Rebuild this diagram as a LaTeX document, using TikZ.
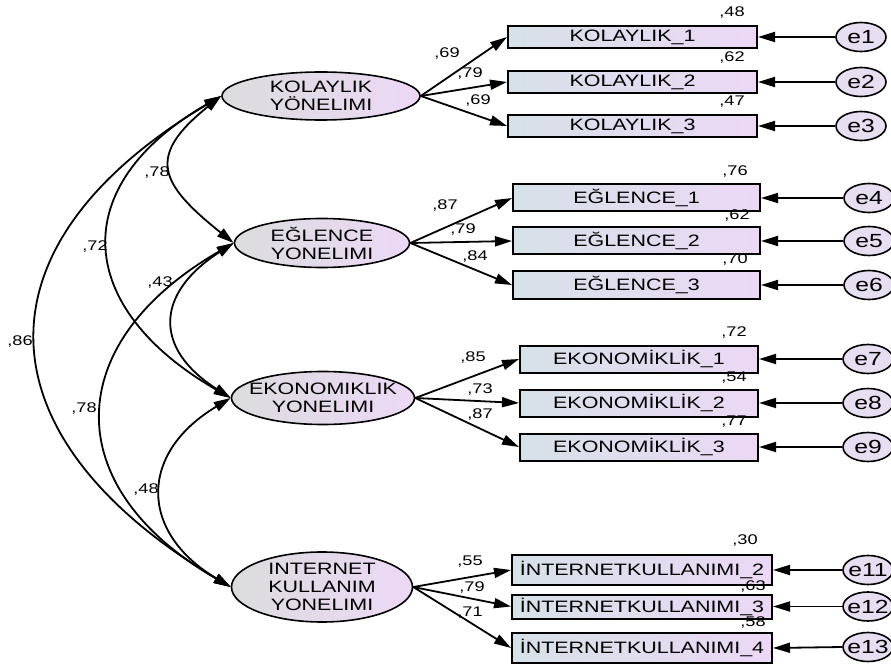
\documentclass[tikz,border=0pt]{standalone}
\usepackage{fontspec}
\setmainfont[FakeStretch=1.3]{Liberation Sans}
\usetikzlibrary{arrows.meta, shapes.geometric}
\definecolor{latgray}{RGB}{220,220,222}
\definecolor{latpink}{RGB}{236,216,246}
\definecolor{boxgray}{RGB}{214,225,232}
\definecolor{errfill}{RGB}{232,222,242}
\tikzset{>={Stealth[length=17pt,width=10pt,inset=0pt]}}
\tikzset{
  latent/.style={ellipse, draw, line width=1.6pt, left color=latgray, right color=latpink,
    inner xsep=-30pt, inner ysep=-10pt, align=center, font=\fontsize{16.5}{18}\selectfont},
  observed/.style={rectangle, draw, line width=2pt, left color=boxgray, right color=latpink,
    inner sep=0pt, font=\fontsize{16.5}{18}\selectfont},
  error/.style={ellipse, draw, line width=1.6pt, fill=errfill, inner sep=-4pt,
    minimum width=50pt, minimum height=29pt, font=\fontsize{19}{20}\selectfont},
  num/.style={inner sep=0pt, font=\fontsize{14}{15}\selectfont},
  load/.style={->, line width=1.8pt},
  cov/.style={<->, line width=1.8pt}
}

\begin{document}
\begin{tikzpicture}[x=1pt,y=-1pt]
    \path[use as bounding box, fill=white] (0,0) rectangle (891,668);

    % latent factors
    \node [latent, minimum width=198pt, minimum height=48pt] (kol) at (321,96) {KOLAYLIK\\YÖNELIMI};
    \node [latent, minimum width=175pt, minimum height=49pt] (egl) at (322,243) {EĞLENCE\\YONELIMI};
    \node [latent, minimum width=183pt, minimum height=53pt] (eko) at (323,398) {EKONOMIKLIK\\YONELIMI};
    \node [latent, minimum width=181pt, minimum height=70pt] (int) at (322,587) {INTERNET\\KULLANIM\\YONELIMI};

    % indicators
    \node [observed, minimum width=249pt, minimum height=22pt] (k1) at (632.5,37) {KOLAYLIK\_1};
    \node [observed, minimum width=249pt, minimum height=22pt] (k2) at (632.5,82) {KOLAYLIK\_2};
    \node [observed, minimum width=249pt, minimum height=22pt] (k3) at (632.5,126) {KOLAYLIK\_3};
    \node [observed, minimum width=247pt, minimum height=27pt] (g1) at (636.5,198) {EĞLENCE\_1};
    \node [observed, minimum width=247pt, minimum height=27pt] (g2) at (636.5,241) {EĞLENCE\_2};
    \node [observed, minimum width=247pt, minimum height=27pt] (g3) at (636.5,285) {EĞLENCE\_3};
    \node [observed, minimum width=238pt, minimum height=27pt] (o1) at (639,359) {EKONOMİKLİK\_1};
    \node [observed, minimum width=238pt, minimum height=27pt] (o2) at (639,403) {EKONOMİKLİK\_2};
    \node [observed, minimum width=238pt, minimum height=27pt] (o3) at (639,447) {EKONOMİKLİK\_3};
    \node [observed, minimum width=260pt, minimum height=30pt] (n2) at (642,570) {İNTERNETKULLANIMI\_2};
    \node [observed, minimum width=260pt, minimum height=24pt] (n3) at (642,606.5) {İNTERNETKULLANIMI\_3};
    \node [observed, minimum width=260pt, minimum height=30pt] (n4) at (642,648) {İNTERNETKULLANIMI\_4};

    % errors
    \node [error] (e1) at (861,37) {e1};
    \node [error] (e2) at (861,82) {e2};
    \node [error] (e3) at (861,126) {e3};
    \node [error] (e4) at (869,198) {e4};
    \node [error] (e5) at (869,241) {e5};
    \node [error] (e6) at (869,285) {e6};
    \node [error] (e7) at (868,359) {e7};
    \node [error] (e8) at (868,403) {e8};
    \node [error] (e9) at (868,447) {e9};
    \node [error] (e11) at (868,570) {e11};
    \node [error] (e12) at (868,606.5) {e12};
    \node [error] (e13) at (868,647) {e13};

    % loadings
    \draw [load] (kol.east) -- (k1.west);
    \draw [load] (kol.east) -- (k2.west);
    \draw [load] (kol.east) -- (k3.west);
    \draw [load] (egl.east) -- (g1.west);
    \draw [load] (egl.east) -- (g2.west);
    \draw [load] (egl.east) -- (g3.west);
    \draw [load] (eko.east) -- (o1.west);
    \draw [load] (eko.east) -- (o2.west);
    \draw [load] (eko.east) -- (o3.west);
    \draw [load] (int.east) -- (n2.west);
    \draw [load] (int.east) -- (n3.west);
    \draw [load] (int.east) -- (n4.west);

    % error paths
    \draw [load] (e1.west) -- (k1.east);
    \draw [load] (e2.west) -- (k2.east);
    \draw [load] (e3.west) -- (k3.east);
    \draw [load] (e4.west) -- (g1.east);
    \draw [load] (e5.west) -- (g2.east);
    \draw [load] (e6.west) -- (g3.east);
    \draw [load] (e7.west) -- (o1.east);
    \draw [load] (e8.west) -- (o2.east);
    \draw [load] (e9.west) -- (o3.east);
    \draw [load] (e11.west) -- (n2.east);
    \draw [load] (e12.west) -- (n3.east);
    \draw [load] (e13.west) -- (n4.east);

    % covariances
    \draw [cov] (kol.west) .. controls +(-75,60) and +(-75,-60) .. (egl.west);
    \draw [cov] (kol.west) .. controls +(-156,90) and +(-156,-90) .. (eko.west);
    \draw [cov] (kol.west) .. controls +(-252,150) and +(-252,-150) .. (int.west);
    \draw [cov] (egl.west) .. controls +(-78,50) and +(-78,-50) .. (eko.west);
    \draw [cov] (egl.west) .. controls +(-173,100) and +(-173,-100) .. (int.west);
    \draw [cov] (eko.west) .. controls +(-92,55) and +(-92,-55) .. (int.west);

    \node [num] (c12) at (157,173) {,78};
    \node [num] (c13) at (95,247) {,72};
    \node [num] (c14) at (20,342) {,86};
    \node [num] (c23) at (160,283) {,43};
    \node [num] (c24) at (84,409) {,78};
    \node [num] (c34) at (146,490) {,48};

    % loading values
    \node [num] (l1) at (447,54) {,69};
    \node [num] (l2) at (470,74) {,79};
    \node [num] (l3) at (478,101) {,69};
    \node [num] (l4) at (445,206) {,87};
    \node [num] (l5) at (463,230) {,79};
    \node [num] (l6) at (475,257) {,84};
    \node [num] (l7) at (473,358) {,85};
    \node [num] (l8) at (480,390) {,73};
    \node [num] (l9) at (480,415) {,87};
    \node [num] (l11) at (470,562) {,55};
    \node [num] (l12) at (472,588) {,79};
    \node [num] (l13) at (470,613) {,71};

    % squared multiple correlations
    \node [num] (r1) at ([xshift=-26pt,yshift=12pt]k1.north east) {,48};
    \node [num] (r2) at ([xshift=-26pt,yshift=12pt]k2.north east) {,62};
    \node [num] (r3) at ([xshift=-26pt,yshift=12pt]k3.north east) {,47};
    \node [num] (r4) at ([xshift=-26pt,yshift=12pt]g1.north east) {,76};
    \node [num] (r5) at ([xshift=-24pt,yshift=11pt]g2.north east) {,62};
    \node [num] (r6) at ([xshift=-26pt,yshift=11pt]g3.north east) {,70};
    \node [num] (r7) at ([xshift=-25pt,yshift=12pt]o1.north east) {,72};
    \node [num] (r8) at ([xshift=-25pt,yshift=11pt]o2.north east) {,54};
    \node [num] (r9) at ([xshift=-25pt,yshift=11pt]o3.north east) {,77};
    \node [num] (r11) at ([xshift=-28pt,yshift=13pt]n2.north east) {,30};
    \node [num] (r12) at ([xshift=-20pt,yshift=7pt]n3.north east) {,63};
    \node [num] (r13) at ([xshift=-20pt,yshift=9pt]n4.north east) {,58};
\end{tikzpicture}
\end{document}
